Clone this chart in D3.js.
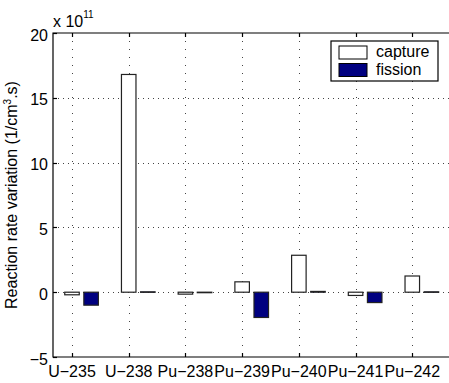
<!DOCTYPE html>
<html>
<head>
<meta charset="utf-8">
<script src="https://cdn.jsdelivr.net/npm/d3@7"></script>
<style>
  body { margin: 0; background: #fff; }
  svg { display: block; font-family: "Liberation Sans", Arial, sans-serif; }
</style>
</head>
<body>
<div id="chart"></div>
<script>
// isotopes on the x axis
var isotopes = ['U-235', 'U-238', 'Pu-238', 'Pu-239', 'Pu-240', 'Pu-241', 'Pu-242'];
// reaction rate variation, in units of 1e11 (1/cm3.s)
var capture = [-0.2, 16.8, -0.15, 0.8, 2.85, -0.25, 1.25];
var fission = [-1.0, 0.03, -0.03, -1.95, 0.06, -0.8, 0.03];
var yTicks = [-5, 0, 5, 10, 15, 20];

(function() {
  var width = 449, height = 383;
  var mLeft = 53, mTop = 33, mRight = 450, mBottom = 357;
  var fs = 16;

  var svg = d3.select('#chart').append('svg')
      .attr('width', width)
      .attr('height', height);

  var x = d3.scaleLinear().domain([0.665, 7.665]).range([mLeft, mRight]);
  var y = d3.scaleLinear().domain([-5, 20]).range([mBottom, mTop]);

  var barW = x(0.256) - x(0);
  var offset = 0.337;

  // Grid lines (dotted, like matlab grid on).
  svg.append('g').selectAll('line')
    .data(yTicks.filter(function(d) { return d > -5 && d < 20; }))
    .enter().append('line')
      .attr('x1', mLeft).attr('x2', mRight)
      .attr('y1', function(d) { return Math.round(y(d)) + 0.5; })
      .attr('y2', function(d) { return Math.round(y(d)) + 0.5; })
      .attr('stroke', '#444')
      .attr('stroke-width', 1)
      .attr('stroke-dasharray', '1,4');

  svg.append('g').selectAll('line')
    .data(isotopes)
    .enter().append('line')
      .attr('x1', function(d, i) { return Math.round(x(i + 1)) + 0.5; })
      .attr('x2', function(d, i) { return Math.round(x(i + 1)) + 0.5; })
      .attr('y1', mTop).attr('y2', mBottom)
      .attr('stroke', '#444')
      .attr('stroke-width', 1)
      .attr('stroke-dasharray', '1,7');

  // Bars.
  var rectFor = function(sel, vals, dx, fill) {
    sel.selectAll('rect')
      .data(vals)
      .enter().append('rect')
        .attr('x', function(d, i) { return x(i + 1 + dx) - barW / 2; })
        .attr('width', barW)
        .attr('y', function(d) { return Math.min(y(d), y(0)); })
        .attr('height', function(d) { return Math.max(Math.abs(y(d) - y(0)), 0.5); })
        .attr('fill', fill)
        .attr('stroke', '#222')
        .attr('stroke-width', 1.2);
  };
  rectFor(svg.append('g').attr('class', 'capture'), capture, 0, '#fff');
  rectFor(svg.append('g').attr('class', 'fission'), fission, offset, '#000080');

  // Axes box and ticks.
  var axis = svg.append('g').attr('stroke', '#000').attr('stroke-width', 1.2).attr('fill', 'none');
  axis.append('path')
    .attr('d', 'M' + mLeft + ',' + mTop + 'L' + mRight + ',' + mTop
      + 'L' + mRight + ',' + mBottom + 'L' + mLeft + ',' + mBottom + 'Z');

  yTicks.forEach(function(t) {
    var yy = Math.round(y(t)) + 0.5;
    axis.append('path').attr('d', 'M' + mLeft + ',' + yy + 'h4');
  });
  isotopes.forEach(function(d, i) {
    var xx = Math.round(x(i + 1)) + 0.5;
    axis.append('path').attr('d', 'M' + xx + ',' + mTop + 'v4');
    axis.append('path').attr('d', 'M' + xx + ',' + mBottom + 'v-4');
  });

  // Tick labels.
  svg.append('g').selectAll('text')
    .data(yTicks)
    .enter().append('text')
      .attr('x', mLeft - 5)
      .attr('y', function(d) { return y(d) + 7.5; })
      .attr('text-anchor', 'end')
      .attr('font-size', fs)
      .text(function(d) { return d < 0 ? '\u2212' + Math.abs(d) : d; });

  svg.append('g').selectAll('text')
    .data(isotopes)
    .enter().append('text')
      .attr('x', function(d, i) { return x(i + 1); })
      .attr('y', 376.5)
      .attr('text-anchor', 'middle')
      .attr('font-size', fs)
      .text(function(d) { return d.replace('-', '\u2212'); });

  // Exponent label.
  var expo = svg.append('text')
    .attr('x', 53)
    .attr('y', 27)
    .attr('font-size', fs);
  expo.append('tspan').text('x 10');
  expo.append('tspan').attr('font-size', 10).attr('dy', -9).text('11');

  // Y axis label.
  var ylab = svg.append('text')
    .attr('transform', 'translate(17,' + ((mTop + mBottom) / 2) + ') rotate(-90)')
    .attr('text-anchor', 'middle')
    .attr('font-size', fs);
  ylab.append('tspan').text('Reaction rate variation (1/cm');
  ylab.append('tspan').attr('font-size', 10).attr('dy', -6).text('3');
  ylab.append('tspan').attr('dy', 6).text('.s)');

  // Legend.
  var legend = svg.append('g');
  legend.append('rect')
    .attr('x', 331).attr('y', 41).attr('width', 107).attr('height', 40)
    .attr('fill', '#fff').attr('stroke', '#000').attr('stroke-width', 1.2);
  var legendItems = [{name: 'capture', fill: '#fff'}, {name: 'fission', fill: '#000080'}];
  legendItems.forEach(function(d, i) {
    legend.append('rect')
      .attr('x', 339).attr('y', 46 + i * 17.5).attr('width', 28).attr('height', 13)
      .attr('fill', d.fill).attr('stroke', '#000').attr('stroke-width', 1);
    legend.append('text')
      .attr('x', 376).attr('y', 57 + i * 18)
      .attr('font-size', fs)
      .text(d.name);
  });
})();
</script>
</body>
</html>
